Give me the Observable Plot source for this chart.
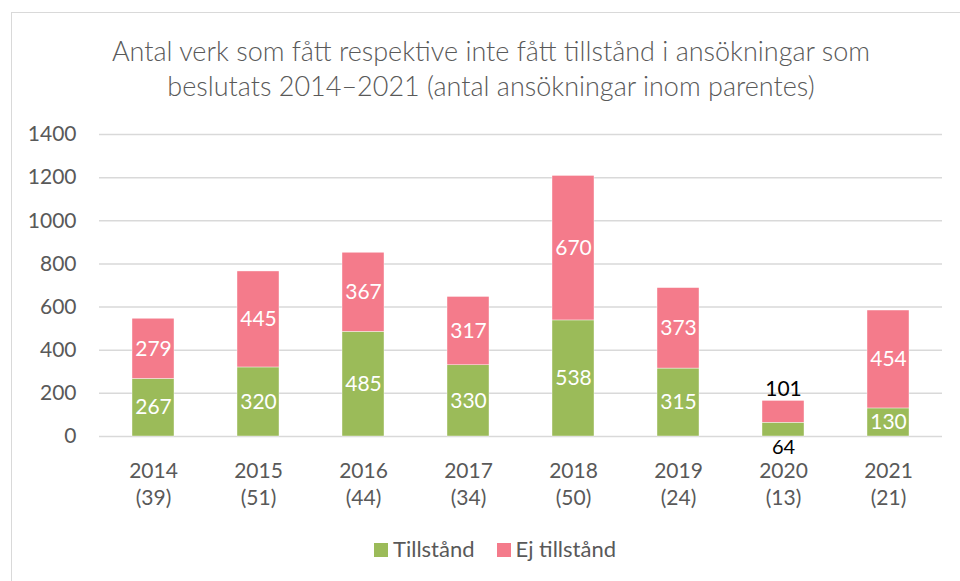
<!DOCTYPE html>
<html><head><meta charset="utf-8">
<script src="https://cdn.jsdelivr.net/npm/d3@7"></script>
<script src="https://cdn.jsdelivr.net/npm/@observablehq/plot@0.6"></script>
<style>
body{margin:0;background:#fff;font-family:Lato,"Open Sans",sans-serif;}
#wrap{position:relative;width:960px;height:581px;overflow:hidden;}
#frame{position:absolute;left:11px;top:12px;width:980px;height:620px;border:1px solid #d9d9d9;box-sizing:border-box;}
#title{position:absolute;left:0;width:982px;top:33px;text-align:center;color:#595959;font-size:27px;font-weight:300;line-height:35px;}
#chart{position:absolute;left:0;top:115px;}
#legend{position:absolute;left:0;width:990px;top:535px;text-align:center;color:#595959;font-size:22px;}
.sw{display:inline-block;width:14px;height:14px;vertical-align:0px;margin-right:5px;}
.li{margin:0 11px;}
</style></head>
<body><div id="wrap"><div id="frame"></div>
<div id="title">Antal verk som fått respektive inte fått tillstånd i ansökningar som<br>beslutats 2014–2021 (antal ansökningar inom parentes)</div>
<div id="chart"></div>
<div id="legend"></div></div>
<script>
const years = ["2014","2015","2016","2017","2018","2019","2020","2021"];
const applications = [39,51,44,34,50,24,13,21];
const tillstand = [267,320,485,330,538,315,64,130];
const ejTillstand = [279,445,367,317,670,373,101,454];
const series = ["Tillstånd","Ej tillstånd"];
const colors = ["#9BBB59","#F47B8B"];
const yTicks = [0,200,400,600,800,1000,1200,1400];
const outsideLabelYears = ["2020"];

const bars = [];
const inside = [];
const below = [];
const above = [];
years.forEach((y,i)=>{
  const a = tillstand[i], b = ejTillstand[i];
  bars.push({year:y, serie:series[0], y1:0, y2:a});
  bars.push({year:y, serie:series[1], y1:a, y2:a+b});
  if (outsideLabelYears.includes(y)) {
    below.push({year:y, v:0, text:String(a)});
    above.push({year:y, v:a+b, text:String(b)});
  } else {
    inside.push({year:y, v:a/2, text:String(a)});
    inside.push({year:y, v:a+b/2, text:String(b)});
  }
});

const chart = Plot.plot({
  width:960, height:400,
  marginLeft:99, marginRight:18, marginTop:19, marginBottom:79,
  style:{fontFamily:"Lato, 'Open Sans', sans-serif", fontSize:"21px", color:"#595959", background:"transparent"},
  x:{domain:years, paddingInner:0.6, paddingOuter:0.3, label:null},
  y:{domain:[0,1400], label:null},
  color:{domain:series, range:colors},
  marks:[
    Plot.gridY(yTicks, {stroke:"#d9d9d9", strokeOpacity:1, strokeWidth:1.5}),
    Plot.barY(bars, {x:"year", y1:"y1", y2:"y2", fill:"serie", inset:0, stroke:"#fff", strokeWidth:0.4}),
    Plot.text(inside, {x:"year", y:"v", text:"text", fill:"white", fontSize:21}),
    Plot.text(below, {x:"year", y:"v", text:"text", fill:"black", fontSize:20, dy:11}),
    Plot.text(above, {x:"year", y:"v", text:"text", fill:"black", fontSize:21, dy:-12}),
    Plot.axisY({ticks:yTicks, tickSize:0, tickPadding:23, label:null, fill:"#595959", tickFormat:d=>String(d)}),
    Plot.axisX({tickSize:0, tickPadding:22, lineHeight:1.3, label:null, fill:"#595959",
      tickFormat:(d)=> d + "\n(" + applications[years.indexOf(d)] + ")"})
  ]
});
document.getElementById("chart").appendChild(chart);

const lg = document.getElementById("legend");
series.forEach((s,i)=>{
  const span = document.createElement("span");
  span.className="li";
  span.innerHTML = `<span class="sw" style="background:${colors[i]}"></span>${s}`;
  lg.appendChild(span);
});
</script></body></html>
